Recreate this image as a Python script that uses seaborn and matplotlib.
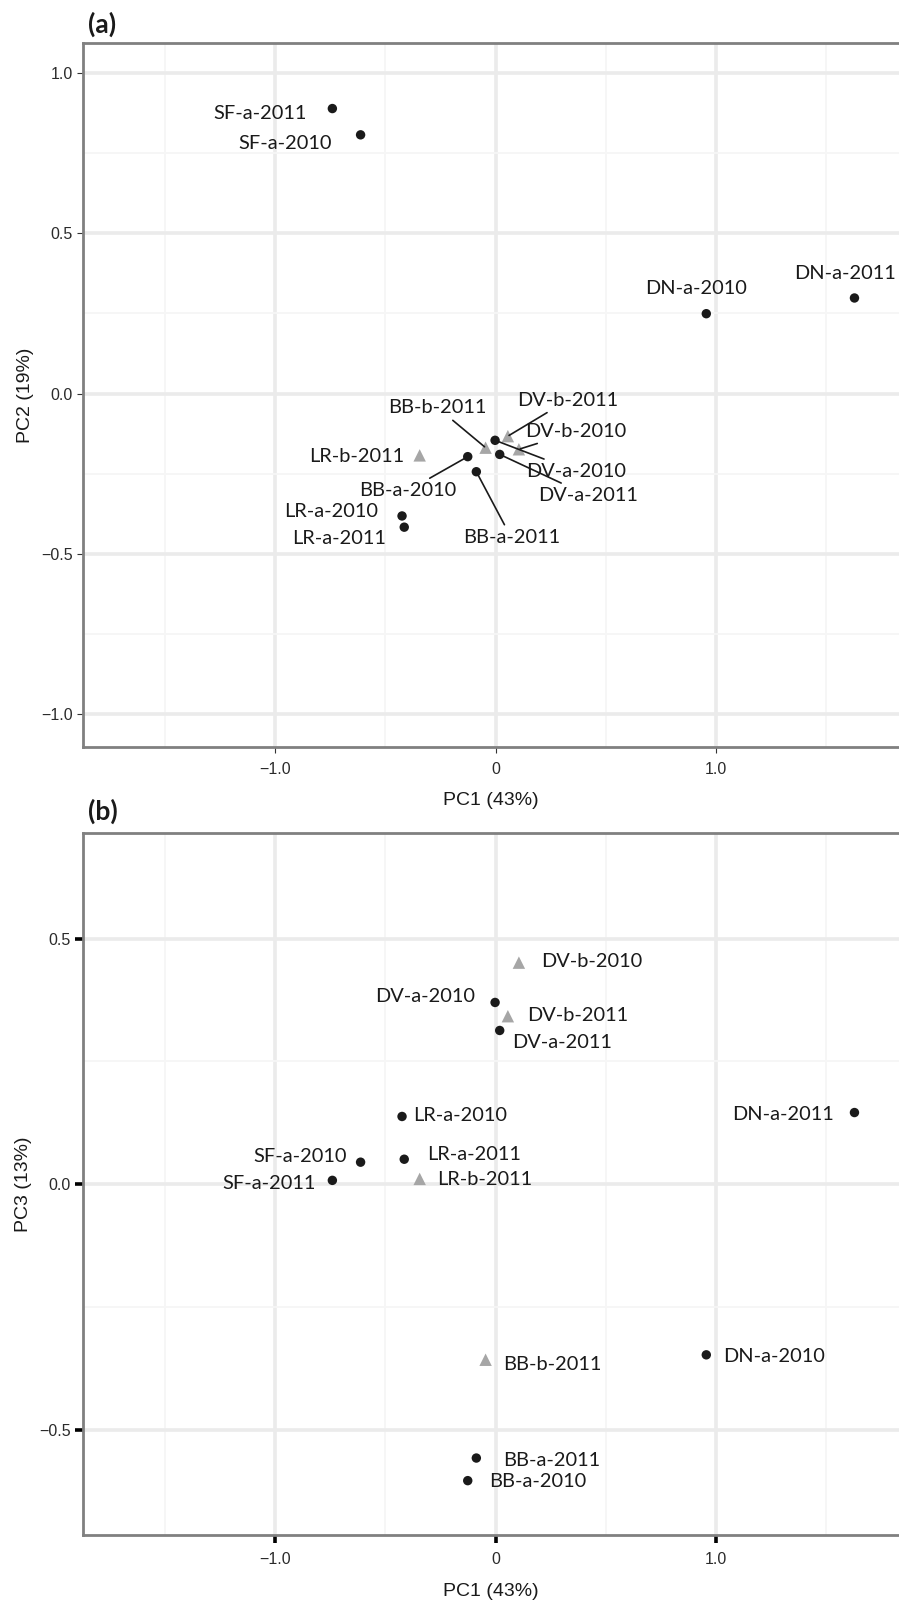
import matplotlib
matplotlib.use("Agg")
import matplotlib.pyplot as plt
import seaborn as sns
import pandas as pd

# PCA scores
samples = ["SF-a-2011", "SF-a-2010", "DN-a-2010", "DN-a-2011", "BB-b-2011",
           "DV-b-2011", "DV-b-2010", "LR-b-2011", "DV-a-2010", "DV-a-2011",
           "BB-a-2010", "BB-a-2011", "LR-a-2010", "LR-a-2011"]
pc1 = [-0.740, -0.612, 0.956, 1.628, -0.045, 0.056, 0.106, -0.344, -0.002,
       0.019, -0.126, -0.087, -0.424, -0.414]
pc2 = [0.889, 0.807, 0.249, 0.298, -0.169, -0.133, -0.174, -0.193, -0.146,
       -0.190, -0.197, -0.244, -0.382, -0.417]
pc3 = [0.008, 0.045, -0.347, 0.146, -0.357, 0.342, 0.451, 0.011, 0.370,
       0.313, -0.603, -0.557, 0.138, 0.051]

x_ticks = [-1.0, 0.0, 1.0]
x_ticklabels = ["\u22121.0", "0", "1.0"]
y_ticks_a = [1.0, 0.5, 0.0, -0.5, -1.0]
y_ticklabels_a = ["1.0", "0.5", "0.0", "\u22120.5", "\u22121.0"]
y_ticks_b = [0.5, 0.0, -0.5]
y_ticklabels_b = ["0.5", "0.0", "\u22120.5"]

# label placement: (dx px, dy px, ha, leader line)
labels_a = [(-26, -5, "right", False), (-29, -9, "right", False),
            (-10, 25, "center", False), (-9, 24, "center", False),
            (-48, 40, "center", True), (60, 36, "center", True),
            (57, 18, "center", True), (-15, -1, "right", False),
            (81, -31, "center", True), (88, -41, "center", True),
            (-60, -34, "center", True), (35, -66, "center", True),
            (-24, 4, "right", False), (-18, -11, "right", False)]
labels_b = [(-17, -3, "right", False), (-14, 6, "right", False),
            (17, -2, "left", False), (-21, -2, "right", False),
            (18, -5, "left", False), (19, 1, "left", False),
            (22, 1, "left", False), (17, -1, "left", False),
            (-20, 6, "right", False), (12, -12, "left", False),
            (21, -1, "left", False), (27, -2, "left", False),
            (11, 1, "left", False), (23, 5, "left", False)]

df = pd.DataFrame({"sample": samples, "pc1": pc1, "pc2": pc2, "pc3": pc3})
df["kind"] = df["sample"].str.split("-").str[1]

sns.set_theme(style="white")
plt.rcParams["font.family"] = ["Liberation Sans", "DejaVu Sans"]

W, H = 899, 1600
fig = plt.figure(figsize=(W / 100, H / 100), dpi=100)
ax_a = fig.add_axes([83 / W, 1 - 747 / H, 816 / W, 704 / H])
ax_b = fig.add_axes([83 / W, 1 - 1535 / H, 816 / W, 702 / H])


def draw_panel(ax, ycol, ylim, yticks, yticklabels, yminor, ylabel, labels, heavy):
    ax.set_xlim(-1.871, 1.830)
    ax.set_ylim(*ylim)
    ax.set_xticks(x_ticks)
    ax.set_xticklabels(x_ticklabels)
    ax.set_xticks([-1.5, -0.5, 0.5, 1.5], minor=True)
    ax.set_yticks(yticks)
    ax.set_yticklabels(yticklabels)
    ax.set_yticks(yminor, minor=True)
    ax.set_axisbelow(True)
    ax.grid(which="major", color="#ebebeb", lw=2.6)
    ax.grid(which="minor", color="#f6f6f6", lw=1.3)

    sns.scatterplot(data=df, x="pc1", y=ycol, hue="kind", style="kind",
                    size="kind", palette={"a": "#1a1a1a", "b": "#a6a6a6"},
                    markers={"a": "o", "b": "^"}, sizes={"a": 46, "b": 80},
                    linewidth=0, legend=False, ax=ax, zorder=3)

    for (name, xv, yv), (dx, dy, ha, leader) in zip(
            df[["sample", "pc1", ycol]].itertuples(index=False), labels):
        kw = {}
        if leader:
            kw["arrowprops"] = dict(arrowstyle="-", color="#1a1a1a", lw=1.2,
                                    shrinkA=1, shrinkB=1)
        ax.annotate(name, (xv, yv), xytext=(dx, dy), textcoords="offset pixels",
                    ha=ha, va="center", fontsize=14.4, color="#1a1a1a",
                    family=["Lato", "DejaVu Sans"], zorder=4, **kw)

    for side in ["left", "top", "bottom"]:
        ax.spines[side].set_color("#808080")
        ax.spines[side].set_linewidth(2)
    ax.spines["right"].set_visible(False)

    if heavy:
        ax.tick_params(which="major", bottom=True, left=True, length=6,
                       width=2.6, color="black")
    else:
        ax.tick_params(which="major", bottom=True, left=True, length=4.3,
                       width=0.8, color="#333333")
    ax.tick_params(which="major", labelsize=11.5, labelcolor="#2b2b2b")
    ax.tick_params(axis="x", pad=6.5)
    ax.tick_params(axis="y", pad=3)
    ax.tick_params(which="minor", length=0)

    ax.set_xlabel("PC1 (43%)", fontsize=14, color="#1a1a1a", labelpad=11)
    ax.set_ylabel(ylabel, fontsize=14, color="#1a1a1a", labelpad=5)


draw_panel(ax_a, "pc2", (-1.1028, 1.0935), y_ticks_a, y_ticklabels_a,
           [-0.75, -0.25, 0.25, 0.75], "PC2 (19%)", labels_a, heavy=False)
draw_panel(ax_b, "pc3", (-0.7136, 0.7148), y_ticks_b, y_ticklabels_b,
           [-0.25, 0.25], "PC3 (13%)", labels_b, heavy=True)

fig.text(88 / W, 1 - 24 / H, "(a)", ha="left", va="center", fontsize=19,
         fontweight="bold", family=["Lato", "DejaVu Sans"], color="#1a1a1a")
fig.text(88 / W, 1 - 811 / H, "(b)", ha="left", va="center", fontsize=19,
         fontweight="bold", family=["Lato", "DejaVu Sans"], color="#1a1a1a")

fig.savefig("out.png", dpi=100)
